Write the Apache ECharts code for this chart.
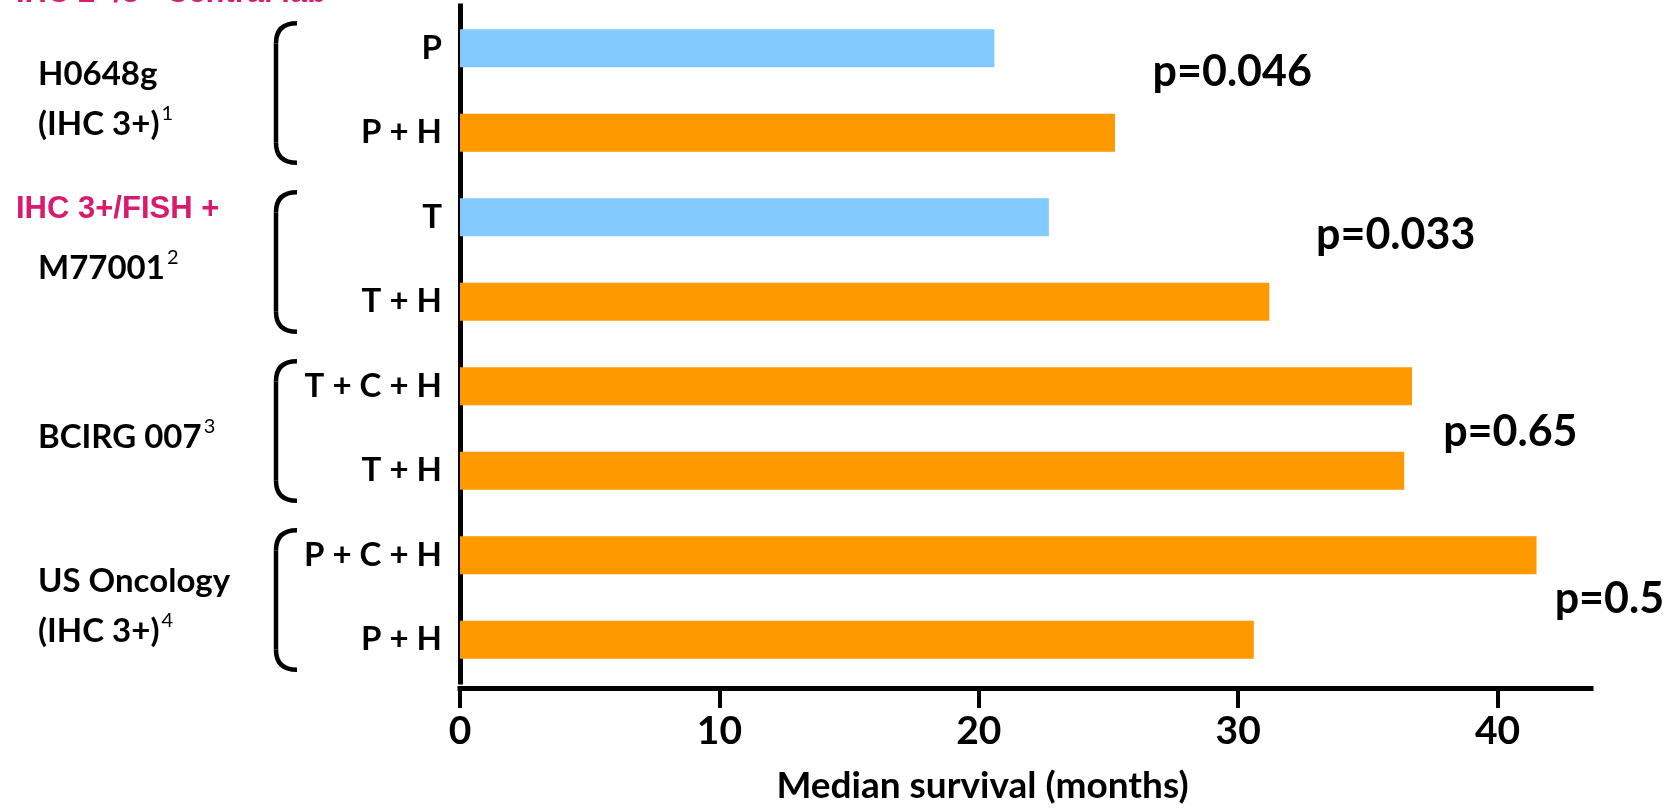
<!DOCTYPE html>
<html>
<head>
<meta charset="utf-8">
<script src="https://cdn.jsdelivr.net/npm/echarts@6/dist/echarts.min.js"></script>
<style>
html,body{margin:0;padding:0;background:#fff;}
#c{width:1664px;height:810px;}
</style>
</head>
<body>
<div id="c"></div>
<script>
// ---------- DATA ----------
const categories = ['P', 'P + H', 'T', 'T + H', 'T + C + H', 'T + H', 'P + C + H', 'P + H'];
const medianSurvival = [20.6, 25.25, 22.7, 31.2, 36.7, 36.4, 41.5, 30.6];
const armType = ['control', 'her', 'control', 'her', 'her', 'her', 'her', 'her'];
const groups = ['H0648g\n(IHC 3+)', 'M77001', 'BCIRG 007', 'US Oncology\n(IHC 3+)'];
const groupRefs = ['1', '2', '3', '4'];
const groupHeaders = ['IHC 2+/3+ Central lab', 'IHC 3+/FISH +'];
const pValues = ['p=0.046', 'p=0.033', 'p=0.65', 'p=0.5'];
const tickValues = [0, 10, 20, 30, 40];
const axisTitle = 'Median survival (months)';

// ---------- LAYOUT / STYLE ----------
const armColor = { control: '#82CAFF', her: '#FF9900' };
const FONT = 'Lato';
const pLabelLayout = [ // x in data units, dy in px from group centre
  { x: 26.7, dy: -18 }, { x: 33.0, dy: -24 }, { x: 37.9, dy: 4 }, { x: 42.2, dy: 2 }
];
const headerLayout = [ { row: 0, dy: -55 }, { row: 2, dy: -8 } ];

const chart = echarts.init(document.getElementById('c'));

function groupFormatter(value, idx) {
  const lines = value.split('\n');
  return lines.map((l, i) => i === lines.length - 1
      ? '{g|' + l + '}{sup|' + groupRefs[idx] + '}'
      : '{g|' + l + '}').join('\n');
}

const option = {
  animation: false,
  backgroundColor: '#fff',
  grid: { left: 460, right: 73, top: 6, height: 676, containLabel: false },
  xAxis: {
    type: 'value', min: 0, max: 43.6, interval: 10, offset: 6,
    axisLine: { show: true, lineStyle: { color: '#000', width: 5, cap: 'square' } },
    axisTick: { show: true, length: 20, lineStyle: { color: '#000', width: 4 }, customValues: tickValues },
    axisLabel: { color: '#000', fontFamily: FONT, fontWeight: 'bold', fontSize: 39, margin: 24, customValues: tickValues },
    splitLine: { show: false },
    name: axisTitle, nameLocation: 'middle', nameGap: 80,
    nameTextStyle: { color: '#000', fontFamily: FONT, fontWeight: 'bold', fontSize: 37, padding: [0, 86, 0, 0] }
  },
  yAxis: [
    {
      type: 'category', data: categories, inverse: true,
      axisLine: { show: true, lineStyle: { color: '#000', width: 5, cap: 'square' } },
      axisTick: { show: false },
      axisLabel: { color: '#000', fontFamily: FONT, fontWeight: 'bold', fontSize: 33, margin: 18 }
    },
    {
      type: 'category', data: groups, inverse: true, position: 'left',
      axisLine: { show: false }, axisTick: { show: false },
      axisLabel: {
        align: 'left', margin: 422, padding: [18, 0, 0, 0],
        formatter: groupFormatter,
        rich: {
          g: { color: '#000', fontFamily: FONT, fontWeight: 'bold', fontSize: 33, lineHeight: 50 },
          sup: { color: '#000', fontFamily: FONT, fontSize: 20, lineHeight: 20, padding: [0, 0, 22, 2] }
        }
      }
    }
  ],
  series: [{
    type: 'bar', yAxisIndex: 0, barWidth: 38,
    data: medianSurvival.map((v, i) => ({ value: v, itemStyle: { color: armColor[armType[i]] } }))
  }]
};
chart.setOption(option);

// ---------- annotations placed through the axes ----------
const yRow = i => chart.convertToPixel({ yAxisIndex: 0 }, i);
const yGroup = g => chart.convertToPixel({ yAxisIndex: 1 }, g);
const xVal = v => chart.convertToPixel({ xAxisIndex: 0 }, v);

const graphics = [];
const bracketStyle = { fill: null, stroke: '#000', lineWidth: 4.5 };
groups.forEach((g, gi) => {
  const top = yRow(gi * 2) - 25, bot = yRow(gi * 2 + 1) + 30;
  const xv = 276, xt = 297, r = 20;
  graphics.push({ type: 'line', silent: true, shape: { x1: xv, y1: top + r, x2: xv, y2: bot - r }, style: bracketStyle });
  graphics.push({ type: 'bezierCurve', silent: true,
    shape: { x1: xt, y1: top, cpx1: xv, cpy1: top, x2: xv, y2: top + r }, style: bracketStyle });
  graphics.push({ type: 'bezierCurve', silent: true,
    shape: { x1: xv, y1: bot - r, cpx1: xv, cpy1: bot, x2: xt, y2: bot }, style: bracketStyle });
});
groupHeaders.forEach((h, i) => {
  graphics.push({
    type: 'text', silent: true, x: 16, y: yRow(headerLayout[i].row) + headerLayout[i].dy,
    style: { text: h, fill: '#D81B6E', fontFamily: '"Liberation Sans", Arial, sans-serif', fontWeight: 'bold', fontSize: 31, verticalAlign: 'middle', align: 'left' }
  });
});
pValues.forEach((p, i) => {
  graphics.push({
    type: 'text', silent: true, x: xVal(pLabelLayout[i].x), y: yGroup(i) + pLabelLayout[i].dy,
    style: { text: p, fill: '#000', fontFamily: FONT, fontWeight: 'bold', fontSize: 43, verticalAlign: 'middle', align: 'left' }
  });
});
chart.setOption({ graphic: { elements: graphics } });
</script>
</body>
</html>
